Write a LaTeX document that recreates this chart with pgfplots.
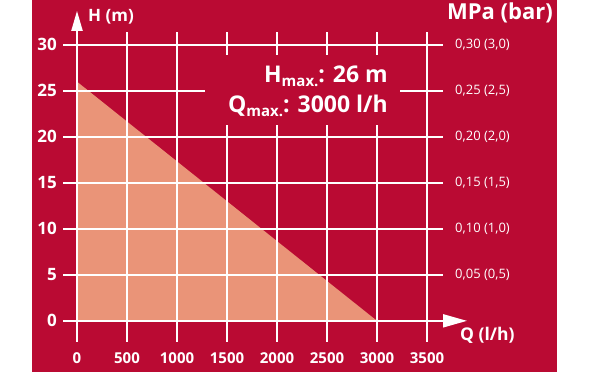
\documentclass[border=0pt]{standalone}
\usepackage{pgfplots}
\pgfplotsset{compat=1.18}
\usepackage{fontspec}
\setmainfont{Open Sans}
\usetikzlibrary{arrows.meta}
\definecolor{bgred}{HTML}{BA0A33}
\definecolor{salmon}{HTML}{EA9478}
\begin{document}
\begin{tikzpicture}[x=1pt,y=1pt]
\useasboundingbox (0,0) rectangle (590,372);
\fill[bgred] (32,0) rectangle (557,372);
\begin{axis}[
  at={(63pt,30pt)}, anchor=south west, scale only axis,
  width=380pt, height=310pt,
  xmin=-140, xmax=3660, ymin=-2.3, ymax=31.4,
  axis line style={draw=none}, tick style={draw=none},
  major tick length=0pt,
  xtick={0,500,...,3500}, ytick={0,5,...,30},
  grid=major, grid style={white, line width=2pt},
  axis on top,
  /pgf/number format/assume math mode=true,
  /pgf/number format/1000 sep={},
  xticklabel style={anchor=north, inner sep=0pt, yshift=-10pt, font=\fontsize{15}{15}\selectfont\bfseries, text=white},
  yticklabel style={anchor=east, inner sep=0pt, xshift=-6pt, font=\fontsize{17}{16}\selectfont\bfseries, text=white},
  clip=false,
]
\addplot[fill=salmon, draw=none] coordinates {(0,0) (0,26) (3000,0) (0,0)};
\draw[white, line width=2pt, -{Triangle[length=20pt,width=11pt]}] (axis cs:0,-2.3) -- (axis cs:0,33.7);
\draw[white, line width=2pt, -{Triangle[length=24pt,width=13pt]}] (axis cs:-140,0) -- (axis cs:3900,0);
\end{axis}
\begin{axis}[
  at={(63pt,30pt)}, anchor=south west, scale only axis,
  width=380pt, height=310pt,
  xmin=-140, xmax=3660, ymin=-2.3, ymax=31.4,
  axis line style={draw=none}, tick style={draw=none},
  major tick length=0pt,
  xtick=\empty, ytick={5,10,...,30},
  yticklabel pos=right,
  yticklabels={{0,05 (0,5)},{0,10 (1,0)},{0,15 (1,5)},{0,20 (2,0)},{0,25 (2,5)},{0,30 (3,0)}},
  yticklabel style={anchor=west, inner sep=0pt, xshift=12pt, font=\fontsize{13}{13}\selectfont, text=white},
]
\addplot[draw=none] coordinates {(0,0)};
\end{axis}
\fill[bgred] (205,247) rectangle (400,317);
\node[anchor=base west, inner sep=0pt, text=white, font=\fontsize{17}{17}\selectfont\bfseries] at (88,350) {H (m)};
\node[anchor=base east, inner sep=0pt, text=white, font=\fontsize{22}{22}\selectfont\bfseries] at (553,352) {MPa (bar)};
\node[anchor=base west, inner sep=0pt, text=white, font=\fontsize{17.5}{17}\selectfont\bfseries] at (460,31) {Q (l/h)};
\node[anchor=base east, inner sep=0pt, text=white, font=\fontsize{23}{23}\selectfont\bfseries] at (388,289) {H\raisebox{-0.3ex}{\fontsize{15}{15}\selectfont max.}: 26 m};
\node[anchor=base east, inner sep=0pt, text=white, font=\fontsize{23}{23}\selectfont\bfseries] at (388,259) {Q\raisebox{-0.3ex}{\fontsize{15}{15}\selectfont max.}: 3000 l/h};
\end{tikzpicture}
\end{document}
